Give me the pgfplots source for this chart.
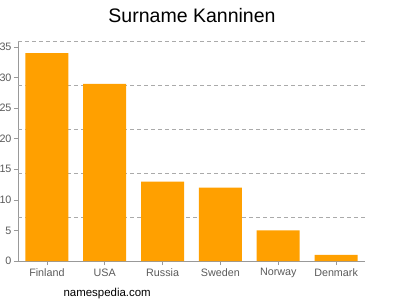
\documentclass[border=0pt]{standalone}
\usepackage{pgfplots}
\pgfplotsset{compat=1.18}
\usepackage{fontspec}
\setmainfont{Liberation Sans}
\definecolor{barc}{RGB}{255,160,0}
\definecolor{axc}{RGB}{153,153,153}
\definecolor{gridc}{RGB}{170,170,170}
\definecolor{labc}{RGB}{90,90,90}
\begin{document}
\begin{tikzpicture}[x=1bp,y=1bp]
\path[use as bounding box] (0,0) rectangle (400,300);
\begin{axis}[
  at={(18bp,39bp)}, anchor=south west,
  scale only axis, width=347bp, height=220bp,
  xmin=-0.5, xmax=5.5, ymin=0, ymax=36,
  axis lines=left, axis line style={draw=axc,-, line width=0.8pt},
  ybar, bar width=43bp,
  xtick={0,1,2,3,4,5},
  xticklabels={Finland,USA,Russia,Sweden,Norway,Denmark},
  ytick={0,5,10,15,20,25,30,35},
  extra y ticks={7.2,14.4,21.6,28.8,36},
  extra y tick labels={},
  extra y tick style={grid=major, major tick length=0pt, major grid style={draw=gridc, dash pattern=on 4bp off 3bp, line width=0.6pt}},
  tick style={draw=axc, line width=0.6pt},
  major tick length=4bp,
  xtick align=outside, ytick align=outside,
  tick label style={font=\fontsize{10.8}{12}\selectfont, text=labc},
  /pgf/number format/assume math mode=true,
  yticklabel style={xshift=1bp},
  clip=false,
]
\addplot[fill=barc, draw=none] coordinates {(0,34) (1,29) (2,13) (3,12) (4,5) (5,1)};
\end{axis}
\node[font=\fontsize{19.6}{22}\selectfont, anchor=base] at (192,278) {Surname Kanninen};
\node[font=\fontsize{11.5}{13}\selectfont, anchor=base west] at (60,4) {namespedia.com};
\end{tikzpicture}
\end{document}
